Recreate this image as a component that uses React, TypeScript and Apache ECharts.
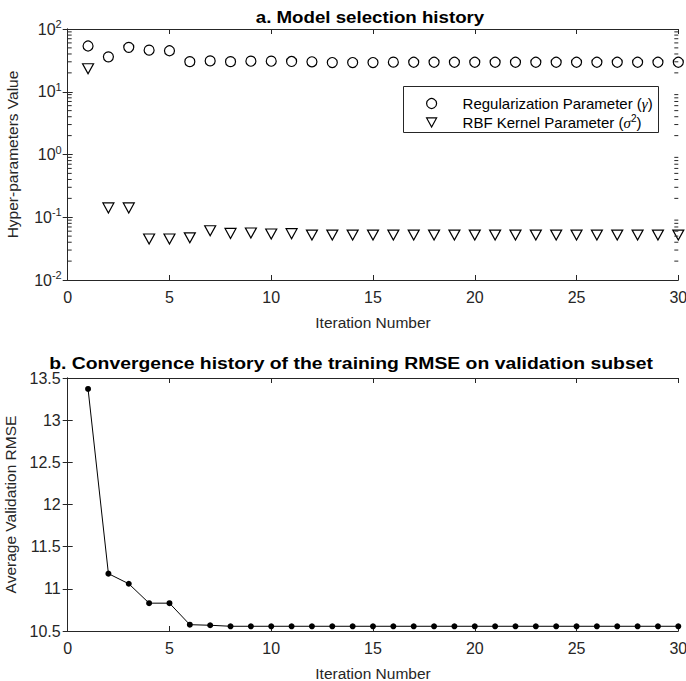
import React, { useEffect, useRef } from "react";
import * as echarts from "echarts";

const iterations = [1, 2, 3, 4, 5, 6, 7, 8, 9, 10, 11, 12, 13, 14, 15, 16, 17, 18, 19, 20, 21, 22, 23, 24, 25, 26, 27, 28, 29, 30];
const gammaValues = [53.6, 36, 51, 46, 45, 30.2, 31, 30.2, 30.7, 30.7, 30.4, 30, 29.2, 29.2, 29.2, 29.6, 29.5, 29.5, 29.5, 29.5, 29.5, 29.5, 29.5, 29.5, 29.5, 29.5, 29.5, 29.5, 29.5, 29.5];
const sigmaValues = [23.3, 0.141, 0.141, 0.045, 0.045, 0.047, 0.061, 0.0553, 0.056, 0.054, 0.0547, 0.052, 0.052, 0.052, 0.052, 0.052, 0.052, 0.052, 0.052, 0.052, 0.052, 0.052, 0.052, 0.052, 0.052, 0.052, 0.052, 0.052, 0.052, 0.052];
const rmseValues = [13.37, 11.18, 11.06, 10.83, 10.83, 10.575, 10.568, 10.556, 10.556, 10.556, 10.556, 10.556, 10.556, 10.556, 10.556, 10.556, 10.556, 10.556, 10.556, 10.556, 10.556, 10.556, 10.556, 10.556, 10.556, 10.556, 10.556, 10.556, 10.556, 10.556];

const titleA = "a. Model selection history";
const titleB = "b. Convergence history of the training RMSE on validation subset";
const xName = "Iteration Number";
const yNameA = "Hyper-parameters Value";
const yNameB = "Average Validation RMSE";
const gammaName = "gamma";
const sigmaName = "sigma";

// minor tick positions of the log axis (2..9 within each decade)
const decades = [0.01, 0.1, 1, 10];
const minorMultipliers = [2, 3, 4, 5, 6, 7, 8, 9];
const logMinorTicks: number[] = [];
decades.forEach((d) => minorMultipliers.forEach((m) => logMinorTicks.push(+(d * m).toPrecision(3))));

const FONT = "'Liberation Sans', Arial, Helvetica, sans-serif";
const INK = "#262626";

export default function App() {
  const ref = useRef<HTMLDivElement>(null);
  useEffect(() => {
    if (!ref.current) return;
    const chart = echarts.init(ref.current, undefined, { renderer: "svg" });
    const L = 67.7;
    const R = 686 - 678.3;
    const g1 = { left: L, right: R, top: 29, height: 251, containLabel: false, outerBoundsMode: "none" };
    const g2 = { left: L, right: R, top: 378, height: 253, containLabel: false, outerBoundsMode: "none" };

    const tickLabel = { color: INK, fontFamily: FONT, fontSize: 16 };
    const nameStyle = { color: INK, fontFamily: FONT, fontSize: 15.5 };
    const axisLine = { show: true, lineStyle: { color: INK, width: 1 } };
    const tick = { show: true, inside: true, length: 5, lineStyle: { color: INK, width: 1 } };

    const xMain = (gridIndex: number) => ({
      type: "value",
      gridIndex,
      min: 0,
      max: 30,
      interval: 5,
      position: "bottom",
      axisLine,
      axisTick: tick,
      axisLabel: { ...tickLabel, margin: 9 },
      splitLine: { show: false },
      name: xName,
      nameLocation: "middle",
      nameGap: 34,
      nameTextStyle: nameStyle,
    });
    const xTop = (gridIndex: number) => ({
      type: "value",
      gridIndex,
      min: 0,
      max: 30,
      interval: 5,
      position: "top",
      axisLine,
      axisTick: tick,
      axisLabel: { show: false },
      splitLine: { show: false },
    });

    const logLabel = (v: number) => {
      const e = Math.round(Math.log10(v));
      return `{b|10}{s|${e}}`;
    };
    const logRich = {
      b: { fontSize: 16, color: INK, fontFamily: FONT },
      s: { fontSize: 11, color: INK, fontFamily: FONT, padding: [0, 0, 10, 0] },
    };
    const titleFont = `bold 17px ${FONT}`;

    const option: any = {
      animation: false,
      backgroundColor: "#fff",
      grid: [g1, g2],
      xAxis: [xMain(0), xTop(0), xMain(1), xTop(1)],
      yAxis: [
        {
          type: "log",
          logBase: 10,
          gridIndex: 0,
          min: 0.01,
          max: 100,
          position: "left",
          axisLine,
          axisTick: tick,
          axisLabel: { formatter: logLabel, rich: logRich, margin: 6 },
          splitLine: { show: false },
          name: yNameA,
          nameLocation: "middle",
          nameGap: 47,
          nameTextStyle: nameStyle,
        },
        {
          type: "log",
          logBase: 10,
          gridIndex: 0,
          min: 0.01,
          max: 100,
          position: "right",
          axisLine,
          axisTick: tick,
          axisLabel: { show: false },
          splitLine: { show: false },
        },
        {
          type: "value",
          gridIndex: 1,
          min: 10.5,
          max: 13.5,
          interval: 0.5,
          position: "left",
          axisLine,
          axisTick: tick,
          axisLabel: { ...tickLabel, margin: 7 },
          splitLine: { show: false },
          name: yNameB,
          nameLocation: "middle",
          nameGap: 47,
          nameTextStyle: nameStyle,
        },
        {
          type: "value",
          gridIndex: 1,
          min: 10.5,
          max: 13.5,
          interval: 0.5,
          position: "right",
          axisLine,
          axisTick: tick,
          axisLabel: { show: false },
          splitLine: { show: false },
        },
      ],
      legend: {
        show: true,
        data: [
          { name: gammaName, icon: "circle" },
          { name: sigmaName, icon: "path://M0,0L11,0L5.5,10Z" },
        ],
        orient: "vertical",
        left: 426,
        top: 96,
        padding: 0,
        itemWidth: 10,
        itemHeight: 10,
        itemGap: 2,
        selectedMode: false,
        z: 6,
        itemStyle: { color: "#fff", borderColor: "#000", borderWidth: 1.2 },
        formatter: (name: string) =>
          name === gammaName
            ? "{p|Regularization Parameter (}{i|γ}{n|)}"
            : "{p|RBF Kernel Parameter (}{i|σ}{s|2}{n|)}",
        textStyle: {
          color: "#000",
          fontFamily: FONT,
          fontSize: 15,
          rich: {
            p: { fontSize: 15, color: "#000", fontFamily: FONT, lineHeight: 16, padding: [0, 0, 0, 21] },
            n: { fontSize: 15, color: "#000", fontFamily: FONT, lineHeight: 16 },
            i: { fontSize: 15, color: "#000", fontFamily: "'Liberation Serif', 'DejaVu Serif', serif", fontStyle: "italic", lineHeight: 16 },
            s: { fontSize: 10, color: "#000", fontFamily: FONT, padding: [0, 0, 9, 0] },
          },
        },
      },
      graphic: [
        {
          type: "rect",
          z: 5,
          shape: { x: 403.5, y: 86.5, width: 255, height: 46 },
          style: { fill: "#fff", stroke: INK, lineWidth: 1 },
          silent: true,
        },
        {
          type: "text",
          x: 370,
          y: 9,
          scaleX: 1.1,
          z: 7,
          silent: true,
          style: { text: titleA, font: titleFont, fill: "#000", textAlign: "center", textVerticalAlign: "top" },
        },
        {
          type: "text",
          x: 351,
          y: 355,
          scaleX: 1.14,
          z: 7,
          silent: true,
          style: { text: titleB, font: titleFont, fill: "#000", textAlign: "center", textVerticalAlign: "top" },
        },
      ],
      series: [
        {
          name: gammaName,
          type: "scatter",
          xAxisIndex: 0,
          yAxisIndex: 0,
          symbol: "circle",
          symbolSize: 10,
          itemStyle: { color: "#fff", borderColor: "#000", borderWidth: 1.2, opacity: 1 },
          data: iterations.map((x, i) => [x, gammaValues[i]]),
          clip: false,
          z: 3,
        },
        {
          name: sigmaName,
          type: "scatter",
          xAxisIndex: 0,
          yAxisIndex: 0,
          symbol: "triangle",
          symbolRotate: 180,
          symbolSize: [11, 10],
          itemStyle: { color: "#fff", borderColor: "#000", borderWidth: 1.2, opacity: 1 },
          data: iterations.map((x, i) => [x, sigmaValues[i]]),
          clip: false,
          z: 3,
        },
        {
          name: "minorTicks",
          type: "custom",
          xAxisIndex: 0,
          yAxisIndex: 0,
          silent: true,
          clip: false,
          z: 4,
          data: logMinorTicks.map((v) => [0, v]),
          renderItem: (params: any, api: any) => {
            const v = api.value(1);
            const a = api.coord([0, v]);
            const b = api.coord([30, v]);
            const st = { stroke: INK, lineWidth: 1, fill: null };
            return {
              type: "group",
              children: [
                { type: "line", shape: { x1: a[0], y1: a[1], x2: a[0] + 4, y2: a[1] }, style: st },
                { type: "line", shape: { x1: b[0] - 4, y1: b[1], x2: b[0], y2: b[1] }, style: st },
              ],
            };
          },
        },
        {
          name: "rmse",
          type: "line",
          xAxisIndex: 2,
          yAxisIndex: 2,
          symbol: "circle",
          symbolSize: 6,
          showSymbol: true,
          lineStyle: { color: "#000", width: 1 },
          itemStyle: { color: "#000", borderWidth: 0 },
          data: iterations.map((x, i) => [x, rmseValues[i]]),
          clip: false,
          z: 3,
        },
      ],
    };
    chart.setOption(option);
    return () => chart.dispose();
  }, []);
  return <div ref={ref} style={{ position: "fixed", left: 0, top: 0, width: 686, height: 681 }} />;
}
